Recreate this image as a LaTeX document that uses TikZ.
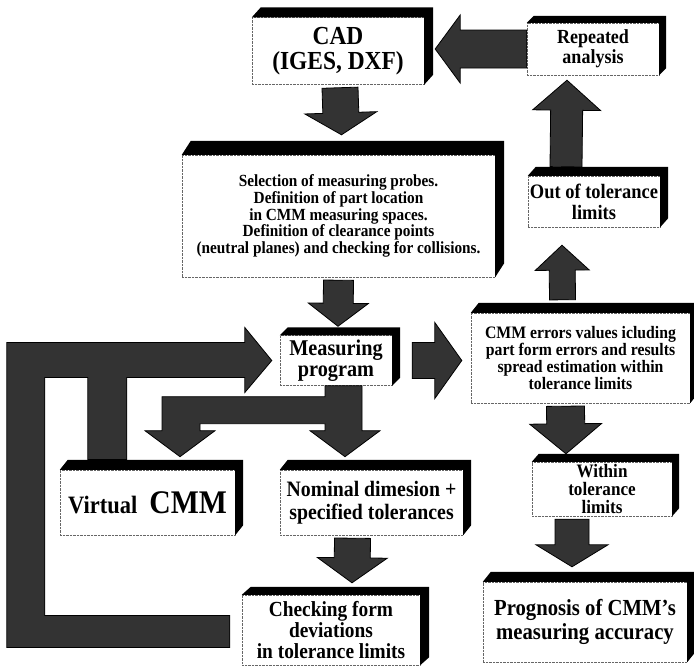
\documentclass[tikz,border=0pt]{standalone}
\usepackage{fontspec}
\setmainfont{Liberation Serif}[FakeStretch=0.9]
\usetikzlibrary{calc}

\newcommand\solid[3]{%
  \fill (#1.north west) -- ++(#2,-#3) -- ($(#1.north east)+(#2,-#3)$) -- ($(#1.south east)+(#2,-#3)$) -- (#1.south east) -- (#1.north east) -- cycle;}
\newcommand\fatarrow[5]{%
  \coordinate (fa-t) at (#1);
  \coordinate (fa-h) at (#2);
  \path ($(fa-h)!#5pt!(fa-t)$) coordinate (fa-b);
  \draw[fat] ($(fa-t)!#3pt!90:(fa-h)$) -- ($(fa-b)!#3pt!-90:(fa-t)$) -- ($(fa-b)!#4pt!-90:(fa-t)$) -- (fa-h)
    -- ($(fa-b)!#4pt!90:(fa-t)$) -- ($(fa-b)!#3pt!90:(fa-t)$) -- ($(fa-t)!#3pt!-90:(fa-h)$) -- cycle;}

\begin{document}
\begin{tikzpicture}[x=1pt, y=-1pt,
    box/.style={draw=black!60, densely dotted, fill=white, align=center, inner sep=0pt},
    fat/.style={fill=black!80, draw=black, line width=0.8pt, line join=miter}]
  \useasboundingbox (0,0) rectangle (694,665);

  \node[box, minimum width=172, minimum height=67, font=\bfseries\fontsize{26}{25.5}\selectfont] (cad) at (338,51) {CAD\\(IGES, DXF)};
  \node[box, minimum width=132, minimum height=52, font=\bfseries\fontsize{20}{20}\selectfont] (rep) at (593,49) {Repeated\\analysis};
  \node[box, minimum width=313, minimum height=122, font=\bfseries\fontsize{17}{14.5}\selectfont] (sel) at (338.5,216) {Selection of measuring probes.\\Definition of part location\\in CMM measuring spaces.\\Definition of clearance points\\(neutral planes) and checking for collisions.};
  \node[box, minimum width=132, minimum height=51, font=\bfseries\fontsize{20.5}{21}\selectfont] (out) at (594,201.5) {Out of tolerance\\limits};
  \node[box, minimum width=112, minimum height=50, font=\bfseries\fontsize{22.5}{21}\selectfont] (mp) at (336,360.5) {Measuring\\program};
  \node[box, minimum width=219, minimum height=90, font=\bfseries\fontsize{17.5}{14.5}\selectfont] (err) at (580.5,358) {CMM errors values icluding\\part form errors and results\\spread estimation within\\tolerance limits};
  \node[box, minimum width=175, minimum height=65, font=\bfseries] (vcmm) at (147.5,502.5) {{\fontsize{25}{27}\selectfont Virtual}\hspace{12pt}{\fontsize{33}{34}\selectfont CMM}};
  \node[box, minimum width=183, minimum height=65, font=\bfseries\fontsize{22}{23}\selectfont] (nom) at (371.5,502.5) {Nominal dimesion +\\specified tolerances};
  \node[box, minimum width=140, minimum height=54, font=\bfseries\fontsize{19}{18}\selectfont] (within) at (602,489) {Within\\tolerance\\limits};
  \node[box, minimum width=178, minimum height=70, font=\bfseries\fontsize{21.5}{21}\selectfont] (chk) at (331,630) {Checking form\\deviations\\in tolerance limits};
  \node[box, minimum width=204, minimum height=80, font=\bfseries\fontsize{23}{24}\selectfont] (prog) at (585,622) {Prognosis of CMM's\\measuring accuracy};

  \solid{cad}{9}{10}
  \solid{rep}{7}{7}
  \solid{sel}{9}{14}
  \solid{out}{8}{9}
  \solid{mp}{8}{8}
  \solid{err}{8}{10}
  \solid{vcmm}{8}{10}
  \solid{nom}{8}{10}
  \solid{within}{7}{8}
  \solid{chk}{9}{8}
  \solid{prog}{8}{10}

  \fatarrow{rep.west}{$(cad.east |- rep.west)+(11,0)$}{19}{34}{25}
  \fatarrow{$(cad.south)+(2,3)$}{$(sel.north)+(3,-20)$}{18}{36}{22}
  \fatarrow{$(sel.south)+(0,3)$}{$(mp.north)+(2,-9)$}{15}{30}{23}
  \fatarrow{$(mp.east)+(20,0)$}{$(err.west |- mp.east)+(-9,0)$}{18}{38}{27}
  \fatarrow{$(err.south)+(-15,3)$}{$(within.north)+(-36,-8)$}{19}{36}{30}
  \fatarrow{$(within.south)+(-30,3)$}{$(prog.north)+(-13,-15)$}{17}{36}{22}
  \fatarrow{$(err.north)+(-18,-13)$}{$(out.south)+(-32,18)$}{13}{27}{25}
  \fatarrow{$(out.north)+(-28,-9)$}{$(rep.south)+(-26,5)$}{16}{34}{30}
  \fatarrow{$(nom.south)+(-19,3)$}{$(chk.north)+(21,-12)$}{18}{35}{25}

  \draw[fat] ([xshift=-11pt]mp.south) -- ++(37,0) -- ++(0,45) -- ++(18,0) -- ++(-35,26) -- ++(-35,-26) -- ++(15,0)
    -- ++(0,-7) -- ++(-125,0) -- ++(0,7) -- ++(15,0) -- ++(-35,26) -- ++(-35,-26) -- ++(17,0) -- ++(0,-34) -- ++(163,0) -- cycle;
  \draw[fat] ($(mp.west)+(-8,0)$) -- ++(-27,-33) -- ++(0,15) -- ++(-238,0) -- ++(0,305) -- ++(223,0) -- ++(0,-32)
    -- ++(-185,0) -- ++(0,-238) -- ++(43,0) -- ++(0,82) -- ++(39,0) -- ++(0,-82) -- ++(118,0) -- ++(0,15) -- cycle;
\end{tikzpicture}
\end{document}
